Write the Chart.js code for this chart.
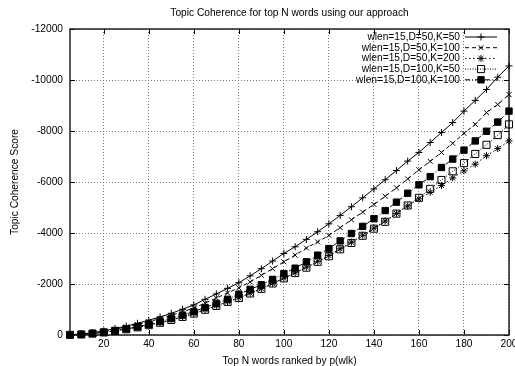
<!DOCTYPE html>
<html>
<head>
<meta charset="utf-8">
<script src="https://cdn.jsdelivr.net/npm/chart.js@4/dist/chart.umd.min.js"></script>
<style>
html,body{margin:0;padding:0;background:#fff;overflow:hidden;width:515px;height:366px}
#wrap{width:530px;height:366px;position:relative}
</style>
</head>
<body>
<div id="wrap"><canvas id="chart-area"></canvas></div>
<script>
// top N words (x) and the coherence score of each run
var topN = [5,10,15,20,25,30,35,40,45,50,55,60,65,70,75,80,85,90,95,100,
            105,110,115,120,125,130,135,140,145,150,155,160,165,170,175,180,185,190,195,200];
var xTicks = [20,40,60,80,100,120,140,160,180,200];

var chartTitle = 'Topic Coherence for top N words using our approach';
var runLabels = ['wlen=15,D=50,K=50','wlen=15,D=50,K=100','wlen=15,D=50,K=200',
                 'wlen=15,D=100,K=50','wlen=15,D=100,K=100'];

var cohD50K50 = [-10,-40,-90,-160,-250,-350,-460,-580,-710,-850,
                 -1010,-1180,-1400,-1610,-1830,-2050,-2320,-2600,-2900,-3200,
                 -3460,-3750,-4050,-4360,-4690,-5030,-5380,-5730,-6090,-6450,
                 -6820,-7160,-7550,-7940,-8330,-8780,-9200,-9630,-10110,-10550];
var cohD50K100 = [-10,-35,-80,-145,-225,-315,-415,-525,-640,-770,
                  -910,-1060,-1250,-1450,-1650,-1850,-2080,-2340,-2600,-2870,
                  -3130,-3410,-3650,-3910,-4210,-4520,-4820,-5120,-5440,-5770,
                  -6120,-6480,-6810,-7160,-7520,-7910,-8260,-8720,-9040,-9430];
var cohD50K200 = [-5,-20,-55,-100,-160,-225,-305,-390,-485,-595,
                  -715,-845,-990,-1140,-1300,-1460,-1640,-1820,-2020,-2230,
                  -2440,-2660,-2890,-3120,-3380,-3640,-3910,-4190,-4470,-4770,
                  -5060,-5340,-5600,-5860,-6160,-6440,-6700,-7030,-7310,-7610];
var cohD100K50 = [-5,-20,-55,-100,-160,-225,-300,-385,-480,-590,
                  -710,-840,-990,-1140,-1300,-1450,-1630,-1810,-2020,-2220,
                  -2430,-2640,-2870,-3090,-3360,-3610,-3890,-4170,-4440,-4760,
                  -5080,-5380,-5730,-6080,-6420,-6740,-7100,-7460,-7840,-8260];
var cohD100K100 = [-5,-25,-60,-110,-170,-240,-320,-420,-530,-650,
                   -780,-920,-1080,-1240,-1400,-1600,-1790,-1970,-2180,-2410,
                   -2620,-2870,-3130,-3390,-3690,-3980,-4260,-4560,-4880,-5210,
                   -5560,-5890,-6210,-6570,-6900,-7250,-7610,-7990,-8350,-8780];

var FONT = "'Liberation Sans', Arial, Helvetica, sans-serif";
var FSIZE = 10.2;
Chart.defaults.font.family = FONT;
Chart.defaults.color = '#000';

function pts(vals){
  return topN.map(function(n, i){ return {x: n, y: vals[i]}; });
}

function serie(i, vals, dash, style, r, fill){
  return {
    label: runLabels[i],
    data: pts(vals),
    borderColor: '#000',
    borderWidth: 1,
    borderDash: dash,
    pointStyle: style,
    pointRadius: r,
    pointBorderWidth: 1,
    pointBorderColor: '#000',
    pointBackgroundColor: fill,
    backgroundColor: fill,
    fill: false,
    tension: 0,
    order: 5 - i,
    clip: 6
  };
}

// gnuplot style box with inward ticks, title over the plot
var frame = {
  id: 'frame',
  beforeDatasetsDraw: function(chart){
    var ctx = chart.ctx, a = chart.chartArea;
    var sx = chart.scales.x, sy = chart.scales.y;
    ctx.save();
    ctx.strokeStyle = '#000';
    ctx.lineWidth = 1;
    ctx.beginPath();
    xTicks.forEach(function(v){
      var px = Math.round(sx.getPixelForValue(v)) + 0.5;
      ctx.moveTo(px, a.top); ctx.lineTo(px, a.top + 5);
      ctx.moveTo(px, a.bottom); ctx.lineTo(px, a.bottom - 5);
    });
    sy.ticks.forEach(function(t){
      var py = Math.round(sy.getPixelForValue(t.value)) + 0.5;
      ctx.moveTo(a.left, py); ctx.lineTo(a.left + 5, py);
      ctx.moveTo(a.right, py); ctx.lineTo(a.right - 5, py);
    });
    ctx.stroke();
    ctx.strokeStyle = '#222';
    ctx.lineWidth = 1.5;
    ctx.strokeRect(a.left, a.top, a.right - a.left, a.bottom - a.top);

    ctx.fillStyle = '#000';
    ctx.font = FSIZE + 'px ' + FONT;
    ctx.textAlign = 'center';
    ctx.textBaseline = 'middle';
    ctx.fillText(chartTitle, (a.left + a.right) / 2, 13);
    ctx.restore();
  }
};

// key in the top right corner: text, then line sample with marker
var key = {
  id: 'key',
  afterDraw: function(chart){
    var ctx = chart.ctx;
    ctx.save();
    ctx.font = FSIZE + 'px ' + FONT;
    ctx.textAlign = 'right';
    ctx.textBaseline = 'middle';
    chart.data.datasets.forEach(function(ds, i){
      var y = 37 + i * 10.7;
      ctx.fillStyle = '#000';
      ctx.fillText(ds.label, 460, y);
      ctx.strokeStyle = '#000';
      ctx.lineWidth = 1;
      ctx.setLineDash(ds.borderDash);
      ctx.beginPath();
      ctx.moveTo(465, y); ctx.lineTo(497, y);
      ctx.stroke();
      ctx.setLineDash([]);
      ctx.fillStyle = ds.pointBackgroundColor;
      Chart.helpers.drawPoint(ctx, {pointStyle: ds.pointStyle, radius: ds.pointRadius, borderWidth: 1, rotation: 0}, 481, y);
    });
    ctx.restore();
  }
};

var config = {
  type: 'line',
  data: {
    datasets: [
      serie(0, cohD50K50, [], 'cross', 3.5, '#000'),
      serie(1, cohD50K100, [4, 3], 'crossRot', 3.5, '#000'),
      serie(2, cohD50K200, [1.5, 2.5], 'star', 3.5, '#000'),
      serie(3, cohD100K50, [1, 1.5], 'rect', 5, 'rgba(0,0,0,0)'),
      serie(4, cohD100K100, [5, 2, 1, 2], 'rect', 4.5, '#000')
    ]
  },
  options: {
    responsive: true,
    maintainAspectRatio: false,
    animation: false,
    events: [],
    layout: {padding: {left: 0, right: 21, top: 29, bottom: 0}},
    plugins: {
      legend: {display: false},
      tooltip: {enabled: false},
      title: {display: false}
    },
    scales: {
      x: {
        type: 'linear',
        min: 5,
        max: 200,
        afterBuildTicks: function(s){ s.ticks = xTicks.map(function(v){ return {value: v}; }); },
        afterFit: function(s){ s.height = 31; s.paddingLeft = 0; s.paddingRight = 0; },
        grid: {color: '#777', lineWidth: 1, drawTicks: false},
        border: {display: false, dash: [1, 2]},
        ticks: {color: '#000', font: {size: FSIZE}, padding: 3, maxRotation: 0, autoSkip: false},
        title: {display: true, text: 'Top N words ranked by p(wlk)', color: '#000',
                font: {size: FSIZE, lineHeight: 1}, padding: 0}
      },
      y: {
        type: 'linear',
        reverse: true,
        min: -12000,
        max: 0,
        afterFit: function(s){ s.width = 70; s.paddingTop = 0; s.paddingBottom = 0; },
        grid: {color: '#777', lineWidth: 1, drawTicks: false},
        border: {display: false, dash: [1, 2]},
        ticks: {color: '#000', font: {size: FSIZE}, padding: 7, stepSize: 2000,
                callback: function(v){ return String(v); }},
        title: {display: true, text: 'Topic Coherence Score', color: '#000',
                font: {size: FSIZE, lineHeight: 1}, padding: {top: 9.9}}
      }
    }
  },
  plugins: [frame, key]
};

var ctx = document.getElementById('chart-area').getContext('2d');
window.myLine = new Chart(ctx, config);
</script>
</body>
</html>
